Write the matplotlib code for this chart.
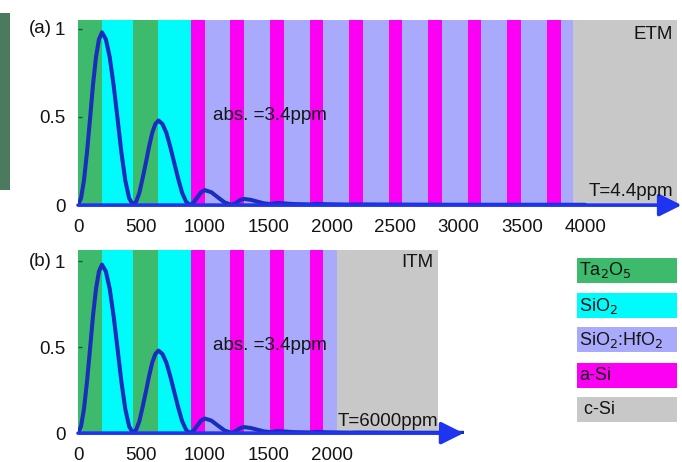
import numpy as np
import matplotlib
matplotlib.use("Agg")
import matplotlib.pyplot as plt
from matplotlib.patches import Rectangle

plt.rcParams['font.family'] = ['Liberation Sans', 'DejaVu Sans']

# ---------------- data ----------------
material_colors = {
    'Ta2O5': '#3dba6c',
    'SiO2': '#00fbfb',
    'SiO2:HfO2': '#aaaafc',
    'a-Si': '#fc00f4',
    'c-Si': '#c8c8c8',
}
legend_keys = ['Ta2O5', 'SiO2', 'SiO2:HfO2', 'a-Si', 'c-Si']
legend_labels = ['Ta$_2$O$_5$', 'SiO$_2$', 'SiO$_2$:HfO$_2$', 'a-Si', ' c-Si']

etm_materials = ['Ta2O5', 'SiO2', 'Ta2O5', 'SiO2',
                 'a-Si', 'SiO2:HfO2', 'a-Si', 'SiO2:HfO2', 'a-Si', 'SiO2:HfO2',
                 'a-Si', 'SiO2:HfO2', 'a-Si', 'SiO2:HfO2', 'a-Si', 'SiO2:HfO2',
                 'a-Si', 'SiO2:HfO2', 'a-Si', 'SiO2:HfO2', 'a-Si', 'SiO2:HfO2',
                 'a-Si', 'SiO2:HfO2', 'c-Si']
etm_thickness = [189, 245, 200, 256,
                 108, 204, 108, 204, 108, 204,
                 108, 204, 108, 204, 108, 204,
                 108, 204, 108, 204, 108, 204,
                 108, 100, 820]

itm_materials = ['Ta2O5', 'SiO2', 'Ta2O5', 'SiO2',
                 'a-Si', 'SiO2:HfO2', 'a-Si', 'SiO2:HfO2',
                 'a-Si', 'SiO2:HfO2', 'a-Si', 'SiO2:HfO2', 'c-Si']
itm_thickness = [189, 245, 200, 256,
                 108, 204, 108, 204,
                 108, 204, 108, 108, 798]

# normalized |E|^2 profile
depth = [0, 24, 47, 71, 95, 118, 142, 165, 189,
         220, 250, 281, 312, 342, 373, 403, 434,
         459, 484, 509, 535, 560, 585, 610, 635,
         666, 697, 728, 759, 790, 821, 852, 883,
         912, 942, 971, 1000,
         1052, 1105, 1157, 1210,
         1235, 1260, 1285, 1310,
         1362, 1415, 1467, 1520,
         1570, 1620, 1700, 1830, 1880, 1960, 2140, 2200, 2500, 3000, 3500, 4000]
field = [0, 0.04, 0.14, 0.30, 0.49, 0.68, 0.84, 0.94, 0.98,
         0.94, 0.84, 0.68, 0.49, 0.30, 0.14, 0.04, 0.0,
         0.02, 0.07, 0.15, 0.24, 0.33, 0.41, 0.46, 0.48,
         0.46, 0.41, 0.33, 0.24, 0.15, 0.07, 0.02, 0.0,
         0.015, 0.045, 0.073, 0.085,
         0.073, 0.043, 0.015, 0.002,
         0.008, 0.02, 0.031, 0.035,
         0.03, 0.02, 0.01, 0.006,
         0.012, 0.01, 0.006, 0.004, 0.007, 0.005, 0.003, 0.004, 0.003, 0.002, 0.002, 0.002]

yticks = [0, 0.5, 1]
yticklabels = ['0', '0.5', '1']
etm_xticks = [0, 500, 1000, 1500, 2000, 2500, 3000, 3500, 4000]
itm_xticks = [0, 500, 1000, 1500, 2000]

# ---------------- figure ----------------
W, H = 682, 462
fig = plt.figure(figsize=(W / 100, H / 100), dpi=100)

curve_color = '#1a2dbb'
arrow_color = '#1e34f0'
txt_color = '#141414'
FS = 13.5


def draw_panel(ax, materials, thickness, xmax, ymax, tag):
    edges = np.concatenate([[0], np.cumsum(thickness)])
    for m, a, b in zip(materials, edges[:-1], edges[1:]):
        ax.axvspan(a, b, color=material_colors[m], lw=0, zorder=0)
    ax.plot(depth, field, color=curve_color, lw=2.9, zorder=3, solid_capstyle='round')
    ax.set_xlim(0, xmax)
    ax.set_ylim(-0.005, ymax)
    for s in ax.spines.values():
        s.set_visible(False)
    ax.set_yticks(yticks)
    ax.set_yticklabels(yticklabels)
    ax.tick_params(axis='y', direction='in', length=3, width=1, color='#225533',
                   pad=9, labelsize=FS, labelcolor=txt_color)
    ax.tick_params(axis='x', direction='in', length=0, pad=9, labelsize=FS,
                   labelcolor=txt_color)
    ax.annotate('', xy=(xmax, 0), xytext=(0, 0), xycoords='data',
                arrowprops=dict(arrowstyle='-|>', color=arrow_color, lw=2.6,
                                mutation_scale=34, shrinkA=0, shrinkB=0),
                annotation_clip=False, zorder=4)
    ax.annotate(tag, xy=(0, 1.0), xycoords=('axes fraction', 'data'),
                xytext=(-26, 0), textcoords='offset pixels', fontsize=FS,
                ha='right', va='center', color=txt_color, annotation_clip=False)
    ax.text(1514, 0.51, 'abs. =3.4ppm', fontsize=FS, ha='center', va='center',
            color=txt_color, zorder=5)
    return edges


ax1 = fig.add_axes([78 / W, 256 / H, 603.6 / W, 186 / H])
draw_panel(ax1, etm_materials, etm_thickness, 4760, 1.05, '(a)')
ax1.set_xticks(etm_xticks)
ax1.text(4692, 0.965, 'ETM', fontsize=FS, ha='right', va='center', color=txt_color)
ax1.text(4692, 0.08, 'T=4.4ppm', fontsize=FS, ha='right', va='center', color=txt_color, zorder=5)

ax2 = fig.add_axes([78 / W, 28 / H, 385.5 / W, 184 / H])
draw_panel(ax2, itm_materials, itm_thickness, 3040, 1.065, '(b)')
ax2.set_xticks(itm_xticks)
ax2.text(2805, 0.99, 'ITM', fontsize=FS, ha='right', va='center', color=txt_color)
ax2.text(2840, 0.065, 'T=6000ppm', fontsize=FS, ha='right', va='center', color=txt_color, zorder=5)

# legend: colored boxes with labels inside
box_x, box_w, box_h = 577, 100, 25
box_tops = [258, 293, 327, 363, 397]
for key, lab, top in zip(legend_keys, legend_labels, box_tops):
    fig.add_artist(Rectangle((box_x / W, (H - top - box_h) / H), box_w / W, box_h / H,
                             transform=fig.transFigure, color=material_colors[key], lw=0))
    fig.text((box_x + 2) / W, (H - top - box_h / 2) / H, lab, fontsize=13,
             ha='left', va='center', color=txt_color)

# dark strip at left edge
fig.add_artist(Rectangle((0, (H - 190) / H), 10 / W, 177 / H, transform=fig.transFigure,
                         color='#4b7a5f', lw=0))

fig.savefig('out.png', dpi=100)
